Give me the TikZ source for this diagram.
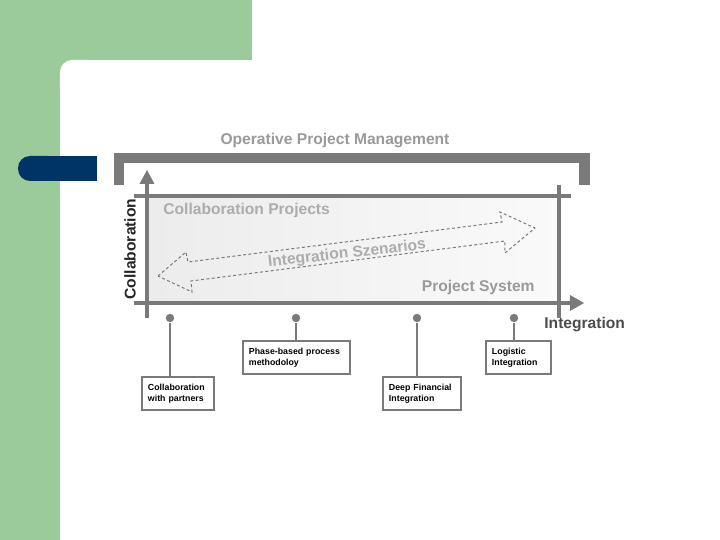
\documentclass[tikz,border=0pt]{standalone}
\usepackage{fontspec}
\setmainfont{Liberation Sans}
\usetikzlibrary{positioning}
\hyphenpenalty=10000

\definecolor{slidegreen}{HTML}{9BCB9A}
\definecolor{slideblue}{HTML}{003366}
\definecolor{framegray}{HTML}{7A7A7A}
\definecolor{titlegray}{HTML}{9A9A9A}
\definecolor{fieldgray}{HTML}{ACACAC}

\begin{document}
\begin{tikzpicture}[x=0.5pt,y=-0.5pt]
\tikzstyle{heading}=[font=\fontsize{7.8}{9}\selectfont\bfseries, inner sep=0pt]
\tikzstyle{axis}=[draw=framegray, line width=2pt]
\tikzstyle{dot}=[circle, fill=framegray, inner sep=0pt, minimum size=4.2pt]
\tikzstyle{box}=[rectangle, draw=framegray, line width=1pt, fill=white, anchor=north west,
  align=left, inner xsep=3pt, minimum height=15.5pt, font=\fontsize{4.4}{5.6}\selectfont\bfseries]
\tikzstyle{connect}=[draw=framegray, line width=1pt]
\useasboundingbox (0,0) rectangle (720,540);
  % slide background
  \fill[white] (0,0) rectangle (720,540);
  \fill[slidegreen] (0,0) rectangle (252,60);
  \fill[slidegreen] (0,0) rectangle (60,540);
  \fill[slidegreen] (60,60) rectangle (80,80);
  \fill[white, rounded corners=6pt] (60,60) rectangle (100,100);
  \fill[slideblue, rounded corners=6pt] (18,156) rectangle (60,181);
  \fill[slideblue] (40,156) rectangle (97,181);
  % management bracket
  \fill[framegray] (114,153) rectangle (590,163);
  \fill[framegray] (114,153) rectangle (124,185);
  \fill[framegray] (579,153) rectangle (590,185);
  \node[heading, text=titlegray] (opm) at (335,141) {Operative Project Management};
  % field
  \shade[left color=gray!15, right color=gray!4] (147,196) rectangle (559,303);
  \coordinate (ytop) at (147,170);
  \coordinate (ybot) at (147,318);
  \coordinate (xleft) at (134,303);
  \coordinate (xright) at (584,303);
  \coordinate (tleft) at (134,196);
  \coordinate (tright) at (571,196);
  \coordinate (rtop) at (559,185);
  \coordinate (rbot) at (559,318);
  \draw[axis] (tleft) -- (tright);
  \draw[axis] (rtop) -- (rbot);
  \draw[axis] (ybot) -- (147,183);
  \fill[framegray] (ytop) -- (154.5,184) -- (139.5,184) -- cycle;
  \draw[axis] (xleft) -- (572,303);
  \fill[framegray] (xright) -- (570,295) -- (570,311) -- cycle;
  \node[heading, text=fieldgray, anchor=west] (cp) at (163,210) {Collaboration Projects};
  \node[heading, text=titlegray, anchor=east] (ps) at (535,287) {Project System};
  \node[heading, text=black!85, rotate=90] (collab) at (130,249) {Collaboration};
  \node[heading, text=black!70, anchor=west] (integ) at (544,325) {Integration};
  % scenarios arrow
  \draw[framegray, line width=0.5pt, dash pattern=on 1.5pt off 1.2pt]
    (158,276) -- (186,252) -- (188,262) -- (502,222) -- (500,212) -- (535,228)
    -- (505,253) -- (505,241) -- (191,281) -- (192,292) -- cycle;
  \node[heading, text=fieldgray, rotate=6.5] (scen) at (347,254) {Integration Szenarios};
  % dots
  \node[dot] (d1) at (170,318) {};
  \node[dot] (d2) at (296,318) {};
  \node[dot] (d3) at (417,318) {};
  \node[dot] (d4) at (514,318) {};
  % boxes
  \node[box, text width=30pt] (b1) at (141,376) {Collaboration\\with partners};
  \node[box, text width=47.5pt] (b2) at (242,340) {Phase-based process\\methodoloy};
  \node[box, text width=33pt] (b3) at (382,376) {Deep Financial\\Integration};
  \node[box, text width=26.5pt] (b4) at (485,340) {Logistic\\Integration};
  \path[connect] (d1) -- (d1 |- b1.north)
        (d2) -- (d2 |- b2.north)
        (d3) -- (d3 |- b3.north)
        (d4) -- (d4 |- b4.north);
\end{tikzpicture}
\end{document}
